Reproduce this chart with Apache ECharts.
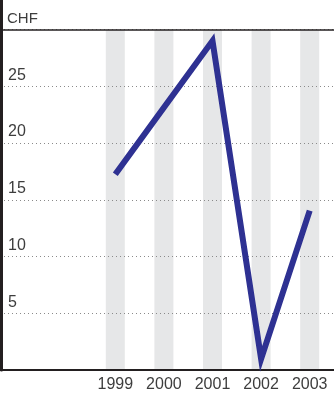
<!DOCTYPE html>
<html>
<head>
<meta charset="utf-8">
<style>
  html, body { margin: 0; padding: 0; background: #ffffff; }
  #chart { width: 334px; height: 393px; }
</style>
<script src="https://cdn.jsdelivr.net/npm/echarts@6/dist/echarts.min.js"></script>
</head>
<body>
<div id="chart"></div>
<script>
// Share price in CHF, 1999–2003
const years = ['1999', '2000', '2001', '2002', '2003'];
const priceCHF = [17.2, 23.1, 29.0, 0.9, 14.0];
const yTicks = [5, 10, 15, 20, 25];
const unitLabel = 'CHF';

const yMin = 0;
const yMax = 30;
const yStep = 5;

const textFont = '"Liberation Sans", Arial, sans-serif';
const textColor = '#3d3d3d';
const ink = '#231f20';

const chart = echarts.init(document.getElementById('chart'), null, { renderer: 'canvas' });

chart.setOption({
  animation: false,
  backgroundColor: '#ffffff',
  grid: [
    // full-width frame with value gridlines
    { left: 0, right: 0, top: 29.5, bottom: 23 },
    // year columns
    { left: 91, width: 245, top: 29.5, bottom: 23 },
    // heavy left rule running to the top edge
    { left: 1.5, width: 1, top: 0, bottom: 23 }
  ],
  xAxis: [
    {
      gridIndex: 0, type: 'category', data: years, position: 'bottom',
      axisLine: { show: true, lineStyle: { color: ink, width: 2 } },
      axisTick: { show: false }, axisLabel: { show: false }, splitLine: { show: false }
    },
    {
      gridIndex: 0, type: 'category', data: years, position: 'top',
      axisLine: { show: true, lineStyle: { color: ink, width: 1.6 } },
      axisTick: { show: false }, axisLabel: { show: false }, splitLine: { show: false }
    },
    {
      gridIndex: 1, type: 'category', data: years, boundaryGap: true,
      axisLine: { show: false }, axisTick: { show: false },
      axisLabel: {
        show: true, margin: 8, color: textColor, fontFamily: textFont, fontSize: 16
      },
      splitLine: { show: false }
    },
    {
      gridIndex: 2, type: 'value', show: false
    }
  ],
  yAxis: [
    {
      gridIndex: 0, type: 'value', min: yMin, max: yMax, interval: yStep,
      axisLine: { show: false }, axisTick: { show: false },
      axisLabel: {
        show: true, inside: true, margin: 8,
        verticalAlign: 'bottom', padding: [0, 0, 3, 0],
        color: textColor, fontFamily: textFont, fontSize: 16,
        formatter: v => (yTicks.indexOf(v) >= 0 ? String(v) : '')
      },
      splitLine: { show: true, lineStyle: { color: '#8a8a8a', width: 1, type: [1, 3] } },
      name: unitLabel, nameLocation: 'end', nameGap: 3,
      nameTextStyle: {
        color: textColor, fontFamily: textFont, fontSize: 15,
        align: 'left', verticalAlign: 'bottom', padding: [0, 0, 0, 7]
      }
    },
    {
      gridIndex: 1, type: 'value', min: yMin, max: yMax, interval: yStep, show: false
    },
    {
      gridIndex: 2, type: 'value', min: yMin, max: yMax,
      axisLine: { show: true, lineStyle: { color: ink, width: 3 } },
      axisTick: { show: false }, axisLabel: { show: false }, splitLine: { show: false }
    }
  ],
  series: [
    {
      name: 'columns', type: 'bar', xAxisIndex: 2, yAxisIndex: 1,
      data: years.map(() => yMax), barWidth: 19, silent: true, z: -1,
      itemStyle: { color: '#e6e7e8' }
    },
    {
      name: unitLabel, type: 'line', xAxisIndex: 2, yAxisIndex: 1,
      data: priceCHF, showSymbol: false, symbol: 'none', z: 5,
      lineStyle: { color: '#2e3192', width: 6, cap: 'butt', join: 'miter', miterLimit: 10 }
    }
  ]
});
</script>
</body>
</html>
